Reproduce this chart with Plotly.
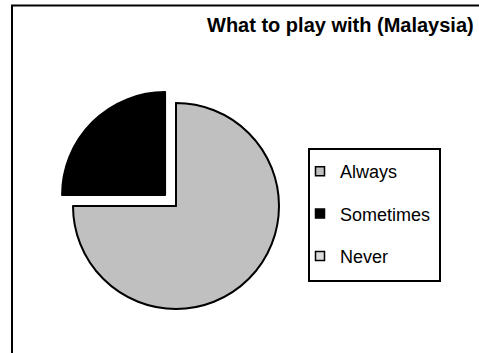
import plotly.graph_objects as go

# Survey answers
labels = ["Always", "Sometimes", "Never"]
values = [75, 25, 0]
colors = ["#C0C0C0", "#000000", "#DDDDDD"]
pulls = [0, 0.15, 0]

title_text = "What to play with (Malaysia)"

W, H = 479, 353
FONT = "Liberation Sans, Arial, sans-serif"

# pie geometry in pixels (centre + radius), converted to a domain
cx, cy, r = 176, 206, 103
half = r * (1 + max(pulls))
dom_x = [(cx - half) / W, (cx + half) / W]
dom_y = [1 - (cy + half) / H, 1 - (cy - half) / H]

fig = go.Figure()

fig.add_trace(go.Pie(
    labels=labels,
    values=values,
    marker=dict(colors=colors, line=dict(color="#000000", width=2)),
    pull=pulls,
    sort=False,
    direction="clockwise",
    rotation=0,
    textinfo="none",
    hoverinfo="label+percent",
    showlegend=False,
    domain=dict(x=dom_x, y=dom_y),
))

# legend entries, one per category
for lab, col in zip(labels, colors):
    fig.add_trace(go.Scatter(
        x=[None], y=[None],
        mode="markers",
        name=lab,
        legendgroup=lab,
        marker=dict(symbol="square", size=9, color=col,
                    line=dict(color="#000000", width=1.5)),
        hoverinfo="skip",
    ))

fig.update_layout(
    width=W, height=H,
    margin=dict(l=0, r=0, t=0, b=0),
    paper_bgcolor="white",
    plot_bgcolor="white",
    xaxis=dict(visible=False),
    yaxis=dict(visible=False),
    font=dict(family=FONT, color="#000000"),
    title=dict(
        text="<b>" + title_text + "</b>",
        font=dict(family=FONT, size=20, color="#000000"),
        x=207 / W, xanchor="left", xref="paper",
        y=1 - 25 / H, yanchor="middle", yref="paper",
    ),
    legend=dict(
        x=300 / W, xanchor="left",
        y=1 - 153 / H, yanchor="top",
        bgcolor="rgba(0,0,0,0)",
        borderwidth=0,
        font=dict(family=FONT, size=18, color="#000000"),
        itemsizing="trace",
        tracegroupgap=16,
    ),
    shapes=[
        # outer chart frame
        dict(type="rect", xref="paper", yref="paper",
             x0=12 / W, x1=1.1, y0=-0.1, y1=1 - 5.5 / H,
             line=dict(color="#000000", width=2), fillcolor="rgba(0,0,0,0)"),
        # legend frame
        dict(type="rect", xref="paper", yref="paper",
             x0=309 / W, x1=440 / W, y0=1 - 281 / H, y1=1 - 149 / H,
             line=dict(color="#000000", width=2), fillcolor="rgba(0,0,0,0)"),
    ],
)

fig.write_html("out.html")
